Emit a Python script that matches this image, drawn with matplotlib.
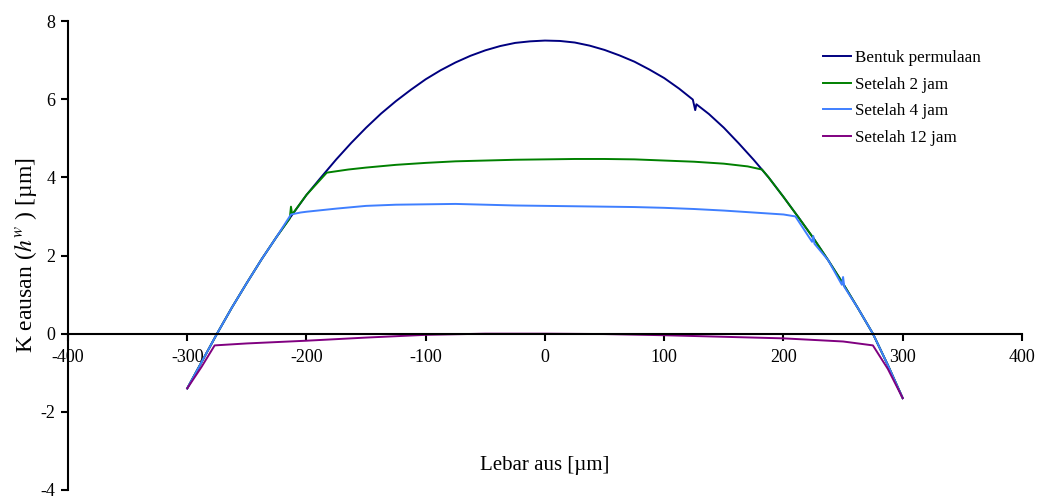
import matplotlib.pyplot as plt

plt.rcParams['font.family'] = ['Liberation Serif', 'DejaVu Serif']
plt.rcParams['mathtext.fontset'] = 'stix'
plt.rcParams['axes.unicode_minus'] = False

# bentuk permulaan (initial profile)
x_awal = [-300, -287.5, -275, -262.5, -250, -237.5, -225, -212.5, -200, -187.5,
          -175, -162.5, -150, -137.5, -125, -112.5, -100, -87.5, -75, -62.5,
          -50, -37.5, -25, -12.5, 0, 12.5, 25, 37.5, 50, 62.5, 75, 87.5, 100,
          112.5, 124, 126, 127, 137.5, 150, 162.5, 175, 187.5, 200, 212.5,
          225, 237.5, 250, 262.5, 275, 287.5, 300]
y_awal = [-1.4, -0.7, 0.0, 0.67, 1.3, 1.91, 2.48, 3.02, 3.55, 4.01,
          4.46, 4.88, 5.27, 5.63, 5.95, 6.24, 6.51, 6.74, 6.94, 7.11,
          7.25, 7.36, 7.44, 7.48, 7.5, 7.49, 7.45, 7.37, 7.26, 7.12, 6.96, 6.76, 6.54,
          6.27, 5.99, 5.72, 5.87, 5.62, 5.27, 4.87, 4.45, 4.0, 3.5, 2.98,
          2.45, 1.88, 1.28, 0.65, 0.0, -0.8, -1.65]

# setelah 2 jam
x_2jam = [-300, -287.5, -275, -262.5, -250, -237.5, -225, -214, -213, -212,
          -200, -183, -165, -150, -125, -100, -75, -50, -25, 0,
          25, 50, 75, 100, 125, 150, 170, 182, 187.5, 200, 212.5,
          225, 237.5, 250, 262.5, 275, 287.5, 300]
y_2jam = [-1.4, -0.7, 0.0, 0.67, 1.3, 1.91, 2.48, 2.95, 3.25, 3.05,
          3.55, 4.12, 4.2, 4.25, 4.32, 4.37, 4.41, 4.43, 4.45, 4.46,
          4.47, 4.47, 4.46, 4.43, 4.4, 4.35, 4.28, 4.2, 4.0, 3.5, 2.98,
          2.45, 1.88, 1.28, 0.65, 0.0, -0.8, -1.65]

# setelah 4 jam
x_4jam = [-300, -287.5, -275, -262.5, -250, -237.5, -225, -213, -205, -200,
          -175, -150, -125, -100, -75, -50, -25, 0, 25, 50, 75, 100, 125,
          150, 175, 200, 210, 224, 225, 226, 237.5, 249, 250, 251, 262.5,
          275, 287.5, 300]
y_4jam = [-1.4, -0.7, 0.0, 0.67, 1.3, 1.91, 2.48, 3.05, 3.1, 3.12,
          3.2, 3.27, 3.3, 3.31, 3.32, 3.3, 3.28, 3.27, 3.26, 3.25, 3.24, 3.22, 3.19,
          3.15, 3.1, 3.05, 3.0, 2.35, 2.5, 2.3, 1.88, 1.25, 1.45, 1.2, 0.65,
          0.0, -0.8, -1.65]

# setelah 12 jam
x_12jam = [-300, -288, -277, -250, -200, -150, -100, -50, 0, 50, 100, 150, 200,
           250, 275, 287.5, 300]
y_12jam = [-1.4, -0.85, -0.3, -0.25, -0.18, -0.1, -0.03, 0.0, 0.0, -0.01, -0.04,
           -0.08, -0.12, -0.2, -0.3, -0.9, -1.65]

fig = plt.figure(figsize=(10.41, 4.97), dpi=100)
ax = fig.add_axes([0.0653, 0.0141, 0.9164, 0.9436])

ax.plot(x_awal, y_awal, color='#000080', lw=1.4, label='Bentuk permulaan')
ax.plot(x_2jam, y_2jam, color='#008000', lw=1.4, label='Setelah 2 jam')
ax.plot(x_4jam, y_4jam, color='#3f7fff', lw=1.4, label='Setelah 4 jam')
ax.plot(x_12jam, y_12jam, color='#800080', lw=1.4, label='Setelah 12 jam')

ax.set_xlim(-400, 400)
ax.set_ylim(-4, 8)
ax.set_xticks(range(-400, 401, 100))
ax.set_yticks(range(-4, 9, 2))

ax.spines['top'].set_visible(False)
ax.spines['right'].set_visible(False)
ax.spines['bottom'].set_position(('data', 0))
ax.spines['bottom'].set_linewidth(1.5)
ax.spines['left'].set_linewidth(1.5)
ax.tick_params(axis='both', direction='out', length=5, width=1.5, labelsize=13)
ax.tick_params(axis='x', pad=6)
ax.tick_params(axis='y', pad=4)

ax.set_ylabel('K eausan ($h^w$ ) [µm]', fontsize=17, labelpad=1)
ax.text(0.5, 0.053, 'Lebar aus [µm]', transform=ax.transAxes,
        ha='center', va='center', fontsize=15)

ax.legend(loc='upper left', bbox_to_anchor=(0.776, 0.93), bbox_transform=fig.transFigure,
          frameon=False, fontsize=12.3, handlelength=1.6, handletextpad=0.25,
          labelspacing=0.62)

fig.savefig('out.png', dpi=100)
